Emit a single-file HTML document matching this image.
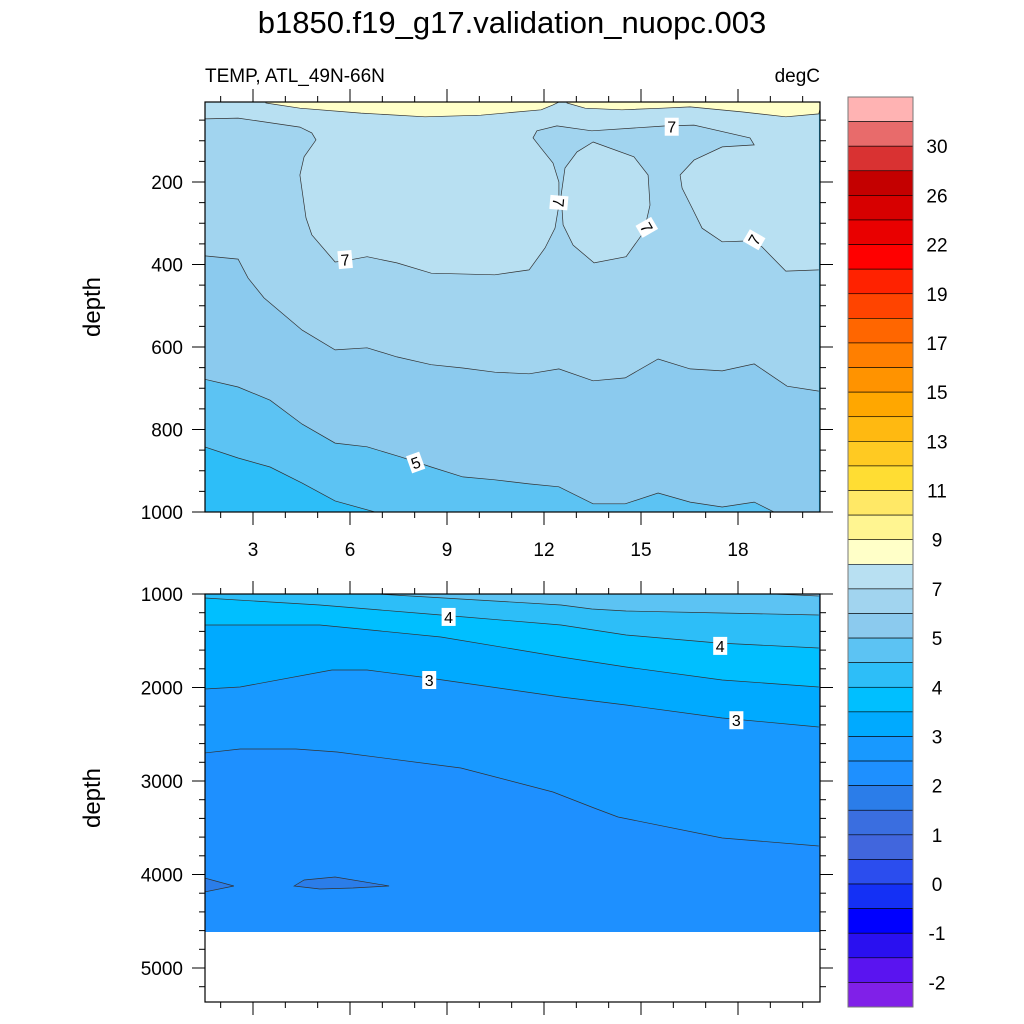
<!DOCTYPE html>
<html><head><meta charset="utf-8"><style>
html,body{margin:0;padding:0;background:#fff;}
svg{display:block;font-family:"Liberation Sans",sans-serif;}
</style></head><body>
<svg id="chart" width="1024" height="1024" viewBox="0 0 1024 1024" xmlns="http://www.w3.org/2000/svg">
<text x="512" y="33" text-anchor="middle" font-size="31">b1850.f19_g17.validation_nuopc.003</text>
<text x="205" y="82" font-size="19">TEMP, ATL_49N-66N</text>
<text x="820" y="82" text-anchor="end" font-size="19">degC</text>
<g id="top"></g>
<g id="bot"></g>
<g id="cbar"></g>
</svg>
<script>
// ---- data ----
const xTicks = [3, 6, 9, 12, 15, 18];
const topYTicks = [200, 400, 600, 800, 1000];
const botYTicks = [1000, 2000, 3000, 4000, 5000];
const cbarLabels = ["30","26","22","19","17","15","13","11","9","7","5","4","3","2","1","0","-1","-2"];
const cbarColors = ["#ffb3b3","#e86b6b","#d93232","#c40000","#d70000","#e90000","#ff0000","#ff2200","#ff4400","#ff6600","#ff7f00","#ff9300","#ffa700","#ffb911","#ffca22","#ffdd33","#ffe866","#fff591","#ffffc8","#b8e0f2","#a1d4ef","#8bcaee","#5cc3f3","#2dbef8","#00bfff","#00aaff","#1899ff","#1e90ff","#2b7de9","#3a6ee0","#4166dd","#2b4dee","#1430f5","#0000ff","#2a10f0","#5a14f0","#8020e8"];
// upper panel contour lines (lat, depth)
const yelL_lat = [3.40,4.45,6.34,8.32,10.05,11.91,12.28,12.46];
const yelL_dep = [8.5,21,33,42,38,25,13,6];
const yelR_lat = [12.71,13.27,14.41,15.65,16.52,18.12,19.48,20.5];
const yelR_dep = [8.5,21,25,21,18,30,42,35];
const c7_lat = [1.5,2.54,4.45,4.82,4.95,4.58,4.45,4.64,4.82,5.54,5.85,6.53,7.45,8.51,10.48,11.54,12.03,12.34,12.46,12.46,12.28,11.91,11.66,11.78,12.40,13.48,15.77,16.64,18.37,18.50,17.51,16.64,16.21,16.27,16.58,16.89,17.51,18.25,18.74,19.48,20.5];
const c7_dep = [47,45,67,81,98,139,183,287,328,394,391,381,396,421,425,413,360,312,256,200,154,118,93,76,64,76,64,62,93,110,115,147,183,215,263,312,345,343,357,416,413];
const loop_lat = [13.52,14.78,15.22,15.28,15.09,14.54,13.55,12.90,12.59,12.53,12.65,13.02];
const loop_dep = [103,139,183,256,321,381,396,353,304,232,166,127];
const c6_lat = [1.5,2.54,2.85,3.34,4.52,5.54,6.53,7.45,8.51,9.49,10.48,11.54,12.46,13.52,14.51,15.53,16.52,17.51,18.50,19.52,20.5];
const c6_dep = [379,387,433,481,559,607,602,624,643,651,661,665,653,682,675,629,653,658,641,695,707];
const c55_lat = [1.5,2.54,3.53,4.52,5.54,6.53,7.58,8.51,9.49,10.48,11.54,12.46,13.52,14.51,15.53,16.52,17.51,18.50,19.11];
const c55_dep = [678,697,729,787,833,842,867,891,915,922,932,939,980,980,954,976,988,976,1000];
const c5_lat = [1.5,2.54,3.53,4.52,5.54,6.77];
const c5_dep = [842,869,891,930,973,1000];
// lower panel contour lines
const b5_lat = [19.11,20.5];
const b5_dep = [1000,1021];
const b45_lat = [6.84,12.53,13.48,14.54,17.51,20.5];
const b45_dep = [1000,1118,1160,1182,1203,1225];
const b4_lat = [1.5,5.07,8.81,12.53,14.54,17.38,20.5];
const b4_dep = [1043,1118,1225,1332,1439,1524,1578];
const b35_lat = [1.5,5.07,8.81,12.53,14.54,17.51,20.5];
const b35_dep = [1332,1332,1460,1674,1781,1920,1995];
const b3_lat = [1.5,2.60,5.44,6.53,8.44,12.53,14.54,17.51,20.5];
const b3_dep = [2016,1995,1813,1813,1898,2102,2187,2326,2422];
const b25_lat = [1.5,2.60,4.33,5.60,9.43,12.28,13.55,14.29,17.51,20.5];
const b25_dep = [2701,2658,2658,2690,2861,3118,3289,3385,3610,3695];
const p1_lat = [1.5,2.41,1.5];
const p1_dep = [4037,4123,4187];
const p2_lat = [4.27,4.58,5.54,7.21,6.09,5.07];
const p2_dep = [4123,4059,4027,4123,4144,4155];
const seafloorDepth = 4615;
// labels [lat, depth, text, rotation]
const topLabels = [[5.85,388,"7",-5],[12.46,250,"7",95],[15.18,310,"7",60],[18.5,340,"7",-60],[15.95,66,"7",0],[8.03,880,"5",-20]];
const botLabels = [[9.05,1245,"4",0],[17.45,1555,"4",0],[8.45,1920,"3",0],[17.95,2350,"3",0]];

// ---- scales ----
const X0=205, X1=820;
const sx = lat => 156 + lat*32.333;
const syT = d => 99.5 + d*0.4125;
const syB = d => 594 + (d-1000)*0.0935;
const NS="http://www.w3.org/2000/svg";
function mk(tag, parent, attrs){const e=document.createElementNS(NS,tag);for(const k in attrs)e.setAttribute(k,attrs[k]);parent.appendChild(e);return e;}
function pts(lat,dep,sy){return lat.map((l,i)=>sx(l).toFixed(1)+","+sy(dep[i]).toFixed(1));}

function panel(g, sy, top, bot, yTicks, minorStep, dMin, dMax, showXLabels){
  const clipId = g.id+"clip";
  const cp = mk("clipPath", g, {id:clipId}); mk("rect", cp, {x:X0,y:top,width:X1-X0,height:bot-top});
  const fills = mk("g", g, {"clip-path":"url(#"+clipId+")"});
  
  
  return fills;
}
function regionAbove(parent, lat, dep, sy, topY, color, name){
  const p = pts(lat,dep,sy);
  const first = sx(lat[0]), last = sx(lat[lat.length-1]);
  const d = "M"+p.join(" L")+" L"+last+","+(topY-5)+" L"+first+","+(topY-5)+" Z";
  const e = mk("path", parent, {d:d, fill:color, stroke:"none"});
  
  
  // extend to right edge if line ends before
  return e;
}
function closedPoly(parent, lat, dep, sy, color, name){
  const e = mk("polygon", parent, {points:pts(lat,dep,sy).join(" "), fill:color, stroke:"#333", "stroke-width":0.7});
  
  
}
function line(parent, lat, dep, sy, name){
  const e = mk("polyline", parent, {points:pts(lat,dep,sy).join(" "), fill:"none", stroke:"#333", "stroke-width":0.7});
  
  
}
function label(parent, lat, dep, sy, txt, rot, name){
  const x=sx(lat), y=sy(dep);
  const g = mk("g", parent, {transform:"translate("+x+","+y+") rotate("+rot+")"});
  
  
  mk("rect", g, {x:-7,y:-9,width:14,height:18,fill:"#fff"});
  const t = mk("text", g, {x:0,y:6,"text-anchor":"middle","font-size":16}); t.textContent = txt;
}
function axes(g, sy, top, bot, yTicks, minorStep, dMin, dMax, showXLabels, yTitle){
  const a = mk("g", g, {});
  
  
  mk("rect", a, {x:X0,y:top,width:X1-X0,height:bot-top,fill:"none",stroke:"#000","stroke-width":1.2});
  for(let l=2;l<=20;l++){
    const x=sx(l), major = xTicks.includes(l), len = major?13:6;
    mk("line", a, {x1:x,y1:bot,x2:x,y2:bot+len,stroke:"#000","stroke-width":1});
    mk("line", a, {x1:x,y1:top,x2:x,y2:top-len,stroke:"#000","stroke-width":1});
  }
  if(showXLabels){
    xTicks.forEach(v=>{
      const t = mk("text", a, {x:sx(v),y:bot+44,"text-anchor":"middle","font-size":19});
      
      
      t.textContent = v;
    });
  }
  const start = Math.ceil(dMin/minorStep)*minorStep;
  for(let d=start; d<=dMax; d+=minorStep){
    const y=sy(d), major = yTicks.includes(d), len = major?13:6;
    mk("line", a, {x1:X0,y1:y,x2:X0-len,y2:y,stroke:"#000","stroke-width":1});
    mk("line", a, {x1:X1,y1:y,x2:X1+len,y2:y,stroke:"#000","stroke-width":1});
  }
  yTicks.forEach(v=>{
    const t = mk("text", a, {x:X0-22,y:sy(v)+7,"text-anchor":"end","font-size":19});
    
    
    t.textContent = v;
  });
  const cy=(top+bot)/2;
  const t = mk("text", a, {x:100,y:cy,"text-anchor":"middle","font-size":24,transform:"rotate(-90 100 "+cy+")"});
  
  
  t.textContent = yTitle;
}

// ---- upper panel ----
const T = document.getElementById("top");
const tTop=102, tBot=512;
const tf = panel(T, syT, tTop, tBot);
mk("rect", tf, {x:X0,y:tTop,width:X1-X0,height:tBot-tTop,fill:"#2dbef8"});
regionAbove(tf, c5_lat.concat([20.5]), c5_dep.concat([1100]), syT, tTop, "#5cc3f3", "band-5-5.5");
regionAbove(tf, c55_lat.concat([20.5]), c55_dep.concat([1100]), syT, tTop, "#8bcaee", "band-5.5-6");
regionAbove(tf, c6_lat, c6_dep, syT, tTop, "#a1d4ef", "band-6-7");
regionAbove(tf, c7_lat, c7_dep, syT, tTop, "#b8e0f2", "band-7-8");
closedPoly(tf, loop_lat, loop_dep, syT, "#b8e0f2", "band-7-8-pocket");
closedPoly(tf, yelL_lat.concat([12.46,3.40]), yelL_dep.concat([0,0]), syT, "#ffffc8", "band-8-9-west");
closedPoly(tf, yelR_lat.concat([20.6,12.71]), yelR_dep.concat([0,0]), syT, "#ffffc8", "band-8-9-east");
[[c7_lat,c7_dep],[c6_lat,c6_dep],[c55_lat,c55_dep],[c5_lat,c5_dep]].forEach(([la,de])=>line(tf,la,de,syT,"contour-line"));
topLabels.forEach(l=>label(tf,l[0],l[1],syT,l[2],l[3],"contour-label"));
axes(T, syT, tTop, tBot, topYTicks, 50, 50, 1000, true, "depth");

// ---- lower panel ----
const B = document.getElementById("bot");
const bTop=594, bBot=1002;
const bf = panel(B, syB, bTop, bBot);
mk("rect", bf, {x:X0,y:bTop,width:X1-X0,height:bBot-bTop,fill:"#1e90ff"});
regionAbove(bf, b25_lat, b25_dep, syB, bTop, "#1899ff", "band-2.5-3");
regionAbove(bf, b3_lat, b3_dep, syB, bTop, "#00aaff", "band-3-3.5");
regionAbove(bf, b35_lat, b35_dep, syB, bTop, "#00bfff", "band-3.5-4");
regionAbove(bf, b4_lat, b4_dep, syB, bTop, "#2dbef8", "band-4-4.5");
regionAbove(bf, b45_lat, b45_dep, syB, bTop, "#5cc3f3", "band-4.5-5");
regionAbove(bf, b5_lat, b5_dep, syB, bTop, "#8bcaee", "band-5-5.5");
closedPoly(bf, p1_lat, p1_dep, syB, "#2b7de9", "cold-patch-west");
closedPoly(bf, p2_lat, p2_dep, syB, "#2b7de9", "cold-patch-central");
[[b45_lat,b45_dep],[b5_lat,b5_dep],[b4_lat,b4_dep],[b35_lat,b35_dep],[b3_lat,b3_dep],[b25_lat,b25_dep]].forEach(([la,de])=>line(bf,la,de,syB,"contour-line"));
const sea = mk("rect", bf, {x:X0,y:syB(seafloorDepth),width:X1-X0,height:bBot-syB(seafloorDepth)+5,fill:"#fff"});


botLabels.forEach(l=>label(bf,l[0],l[1],syB,l[2],l[3],"contour-label"));
axes(B, syB, bTop, bBot, botYTicks, 200, 1000, 5300, false, "depth");

// ---- colorbar ----
const C = document.getElementById("cbar");
const cx=848, cw=65, cTop=97, cBot=1007, bh=(cBot-cTop)/cbarColors.length;
cbarColors.forEach((c,i)=>{
  const r = mk("rect", C, {x:cx,y:cTop+i*bh,width:cw,height:bh,fill:c,stroke:"#000","stroke-width":0.6});
  
  
});
mk("rect", C, {x:cx,y:cTop,width:cw,height:cBot-cTop,fill:"none",stroke:"#777","stroke-width":1});
cbarLabels.forEach((s,i)=>{
  const t = mk("text", C, {x:937,y:cTop+(2*i+2)*bh+7,"text-anchor":"middle","font-size":19});
  
  
  t.textContent = s;
});
</script>
</body></html>
